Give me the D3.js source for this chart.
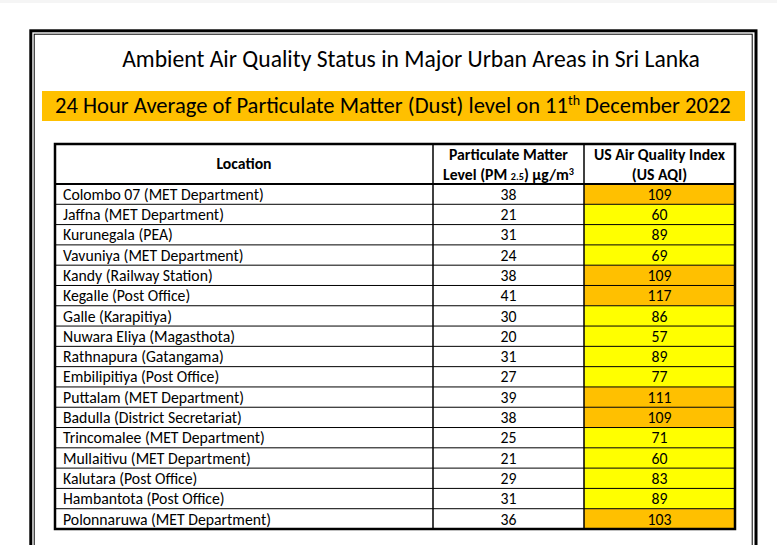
<!DOCTYPE html>
<html>
<head>
<meta charset="utf-8">
<script src="https://cdn.jsdelivr.net/npm/d3@7"></script>
<style>
  body { margin: 0; background: #fff; }
  svg { display: block; }
</style>
</head>
<body>
<div id="chart"></div>
<script>
var locations = [
  "Colombo 07 (MET Department)",
  "Jaffna (MET Department)",
  "Kurunegala (PEA)",
  "Vavuniya (MET Department)",
  "Kandy (Railway Station)",
  "Kegalle (Post Office)",
  "Galle (Karapitiya)",
  "Nuwara Eliya (Magasthota)",
  "Rathnapura (Gatangama)",
  "Embilipitiya (Post Office)",
  "Puttalam (MET Department)",
  "Badulla (District Secretariat)",
  "Trincomalee (MET Department)",
  "Mullaitivu (MET Department)",
  "Kalutara (Post Office)",
  "Hambantota (Post Office)",
  "Polonnaruwa (MET Department)"
];
var pm25 = [38, 21, 31, 24, 38, 41, 30, 20, 31, 27, 39, 38, 25, 21, 29, 31, 36];
var aqi = [109, 60, 89, 69, 109, 117, 86, 57, 89, 77, 111, 109, 71, 60, 83, 89, 103];

var title = "Ambient Air Quality Status in Major Urban Areas in Sri Lanka";
var subtitleParts = ["24 Hour Average of Particulate Matter (Dust) level on 11", "th", " December 2022"];
var aqiBreaks = [51, 101, 151];
var aqiColors = ["#92D050", "#FFFF00", "#FFC000", "#FF0000"];

var W = 777, H = 545;
var font = "Carlito, Calibri, Lato, sans-serif";

var svg = d3.select("#chart").append("svg")
  .attr("width", W)
  .attr("height", H);

// fit a text element to a given width by changing its font size
function fitWidth(sel, target) {
  var size = parseFloat(sel.attr("font-size"));
  var w = sel.node().getComputedTextLength();
  sel.attr("font-size", (size * target / w).toFixed(2));
}

// font size that makes a string a given width
function sizeFor(str, weight, target) {
  var tmp = svg.append("text")
    .attr("font-family", font).attr("font-weight", weight)
    .attr("font-size", 14).text(str);
  var w = tmp.node().getComputedTextLength();
  tmp.remove();
  return 14 * target / w;
}

// faint strip at the very top of the page
svg.append("rect")
  .attr("x", 0).attr("y", 0)
  .attr("width", W).attr("height", 3)
  .attr("fill", "#f5f5f5");

// page frame (double border)
svg.append("rect")
  .attr("x", 30.8).attr("y", 30.8)
  .attr("width", 725.2).attr("height", 540)
  .attr("fill", "none").attr("stroke", "#000").attr("stroke-width", 3);
svg.append("rect")
  .attr("x", 34.2).attr("y", 34.2)
  .attr("width", 718).attr("height", 540)
  .attr("fill", "none").attr("stroke", "#000").attr("stroke-width", 1);

// title
var t = svg.append("text")
  .attr("x", 411).attr("y", 67)
  .attr("text-anchor", "middle")
  .attr("font-family", font).attr("font-size", 22)
  .attr("fill", "#000")
  .text(title);
fitWidth(t, 578);

// subtitle banner
svg.append("rect")
  .attr("x", 42).attr("y", 91)
  .attr("width", 703).attr("height", 30)
  .attr("fill", "#FFC000");
var st = svg.append("text")
  .attr("x", 55).attr("y", 113)
  .attr("font-family", font).attr("font-size", 23)
  .attr("fill", "#000");
st.append("tspan").text(subtitleParts[0]);
st.append("tspan").attr("dy", -8).attr("font-size", "0.62em").text(subtitleParts[1]);
st.append("tspan").attr("dy", 8).text(subtitleParts[2]);
fitWidth(st, 676);

// table layout
var cols = [55, 433, 584, 735];
var headTop = 144, headBottom = 184, tableBottom = 529;

var y = d3.scaleBand()
  .domain(locations)
  .range([headBottom, tableBottom]);

var color = d3.scaleThreshold()
  .domain(aqiBreaks)
  .range(aqiColors);

var table = svg.append("g").attr("font-family", font).attr("fill", "#000");

// AQI cell fills
table.selectAll("rect.aqi")
  .data(locations)
  .enter()
  .append("rect")
  .attr("class", "aqi")
  .attr("x", cols[2])
  .attr("y", function (d) { return y(d); })
  .attr("width", cols[3] - cols[2])
  .attr("height", y.bandwidth())
  .attr("fill", function (d, i) { return color(aqi[i]); });

// row lines
table.selectAll("line.row")
  .data(locations.slice(1))
  .enter()
  .append("line")
  .attr("x1", cols[0]).attr("x2", cols[3])
  .attr("y1", function (d) { return y(d); })
  .attr("y2", function (d) { return y(d); })
  .attr("stroke", "#000").attr("stroke-width", 1);

// header line
table.append("line")
  .attr("x1", cols[0]).attr("x2", cols[3])
  .attr("y1", headBottom).attr("y2", headBottom)
  .attr("stroke", "#000").attr("stroke-width", 2);

// column lines
table.selectAll("line.col")
  .data([cols[1], cols[2]])
  .enter()
  .append("line")
  .attr("x1", function (d) { return d; })
  .attr("x2", function (d) { return d; })
  .attr("y1", headTop).attr("y2", tableBottom)
  .attr("stroke", "#000").attr("stroke-width", 1.5);

// outer border
table.append("rect")
  .attr("x", cols[0]).attr("y", headTop)
  .attr("width", cols[3] - cols[0])
  .attr("height", tableBottom - headTop)
  .attr("fill", "none").attr("stroke", "#000").attr("stroke-width", 2.5);

// header text
var bodySize = sizeFor(locations[0], "normal", 201);
var headSize = sizeFor("Particulate Matter", "bold", 119);

table.append("text")
  .attr("x", (cols[0] + cols[1]) / 2).attr("y", 169)
  .attr("text-anchor", "middle")
  .attr("font-weight", "bold").attr("font-size", headSize)
  .text("Location");

var pmHead = table.append("g")
  .attr("font-weight", "bold").attr("font-size", headSize)
  .attr("text-anchor", "middle");
pmHead.append("text")
  .attr("x", (cols[1] + cols[2]) / 2).attr("y", 160)
  .text("Particulate Matter");
var pm2 = pmHead.append("text")
  .attr("x", (cols[1] + cols[2]) / 2).attr("y", 180);
pm2.append("tspan").text("Level (PM ");
pm2.append("tspan").attr("font-size", "0.65em").text("2.5");
pm2.append("tspan").text(") μg/m");
pm2.append("tspan").attr("dy", -5).attr("font-size", "0.65em").text("3");

pmHead.append("text")
  .attr("x", (cols[2] + cols[3]) / 2).attr("y", 160)
  .text("US Air Quality Index");
pmHead.append("text")
  .attr("x", (cols[2] + cols[3]) / 2).attr("y", 180)
  .text("(US AQI)");

// body text
var rows = table.selectAll("g.row")
  .data(locations)
  .enter()
  .append("g")
  .attr("class", "row")
  .attr("font-size", bodySize)
  .attr("transform", function (d) { return "translate(0," + (y(d) + y.bandwidth() - 4.5) + ")"; });

rows.append("text")
  .attr("x", cols[0] + 8)
  .text(function (d) { return d; });
rows.append("text")
  .attr("x", (cols[1] + cols[2]) / 2)
  .attr("text-anchor", "middle")
  .text(function (d, i) { return pm25[i]; });
rows.append("text")
  .attr("x", (cols[2] + cols[3]) / 2)
  .attr("text-anchor", "middle")
  .text(function (d, i) { return aqi[i]; });
</script>
</body>
</html>
